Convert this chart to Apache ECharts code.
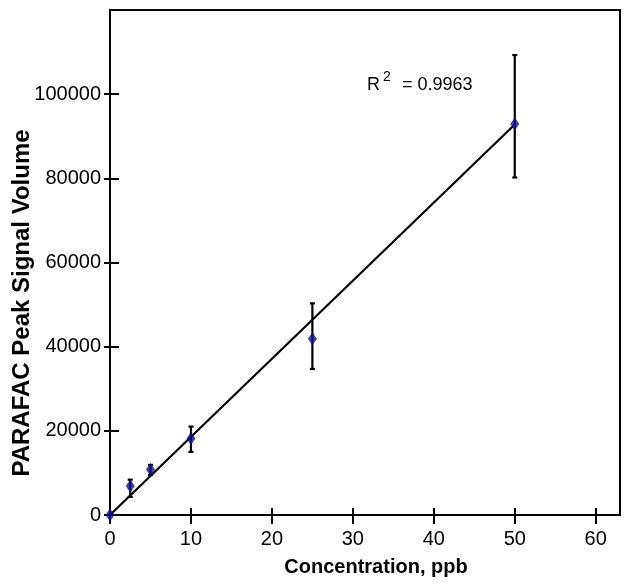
<!DOCTYPE html>
<html>
<head>
<meta charset="utf-8">
<script src="https://cdn.jsdelivr.net/npm/echarts@6/dist/echarts.min.js"></script>
<style>
  html, body { margin: 0; padding: 0; background: #fff; }
  #chart { width: 627px; height: 584px; }
</style>
</head>
<body>
<div id="chart"></div>
<script>
// concentration (ppb) and PARAFAC peak volumes
var conc = [0, 2.5, 5, 10, 25, 50];
var peakMean = [0, 6900, 10800, 18200, 41900, 92900];
var errLow = [0, 4300, 9500, 15000, 34700, 80200];
var errHigh = [0, 8400, 11900, 21000, 50300, 109300];
// least squares line drawn on the figure
var fitX = [0, 50];
var fitY = [0, 92800];
var xTicks = [0, 10, 20, 30, 40, 50, 60];
var yTicks = [0, 20000, 40000, 60000, 80000, 100000];
var r2Text = '0.9963';
var xTitle = 'Concentration, ppb';
var yTitle = 'PARAFAC Peak Signal Volume';

var font = 'Liberation Sans, Arial, sans-serif';
var chart = echarts.init(document.getElementById('chart'));

var axisBase = { type: 'value', splitLine: { show: false } };

chart.setOption({
  backgroundColor: '#fff',
  animation: false,
  grid: {
    left: 110, right: 7, top: 10, bottom: 69,
    outerBoundsMode: 'none',
    containLabel: false,
    show: true, borderColor: '#000', borderWidth: 2
  },
  xAxis: [
    Object.assign({}, axisBase, {
      min: 0, max: 63, position: 'bottom',
      axisLine: { show: true, onZero: false, lineStyle: { color: '#000', width: 2 } },
      axisTick: { show: true, inside: false, length: 9, lineStyle: { color: '#000', width: 2 }, customValues: xTicks },
      axisLabel: { show: true, customValues: xTicks, margin: 14, fontFamily: font, fontSize: 20, color: '#000' }
    }),
    Object.assign({}, axisBase, {
      min: 0, max: 63, position: 'bottom',
      axisLine: { show: false, onZero: false },
      axisTick: { show: true, inside: true, length: 7, lineStyle: { color: '#000', width: 2 }, customValues: xTicks },
      axisLabel: { show: false }
    })
  ],
  yAxis: [
    Object.assign({}, axisBase, {
      min: 0, max: 120000, position: 'left',
      axisLine: { show: true, onZero: false, lineStyle: { color: '#000', width: 2 } },
      axisTick: { show: true, inside: false, length: 6, lineStyle: { color: '#000', width: 2 }, customValues: yTicks },
      axisLabel: {
        show: true, customValues: yTicks, margin: 9, fontFamily: font, fontSize: 20, color: '#000',
        formatter: function (v) { return String(v); }
      }
    }),
    Object.assign({}, axisBase, {
      min: 0, max: 120000, position: 'left',
      axisLine: { show: false, onZero: false },
      axisTick: { show: true, inside: true, length: 9, lineStyle: { color: '#000', width: 2 }, customValues: yTicks },
      axisLabel: { show: false }
    })
  ],
  series: [
    {
      name: 'fit',
      type: 'line',
      data: fitX.map(function (x, i) { return [x, fitY[i]]; }),
      symbol: 'none',
      lineStyle: { color: '#000', width: 2.2 },
      z: 2
    },
    {
      name: 'error',
      type: 'custom',
      data: conc.map(function (c, i) { return [c, errLow[i], errHigh[i]]; }),
      renderItem: function (params, api) {
        var lo = api.coord([api.value(0), api.value(1)]);
        var hi = api.coord([api.value(0), api.value(2)]);
        if (Math.abs(lo[1] - hi[1]) < 1) return null;
        var cap = 2.5;
        var style = { stroke: '#000', lineWidth: 2.2 };
        return {
          type: 'group',
          children: [
            { type: 'line', shape: { x1: lo[0], y1: hi[1], x2: lo[0], y2: lo[1] }, style: style },
            { type: 'line', shape: { x1: lo[0] - cap, y1: hi[1], x2: lo[0] + cap, y2: hi[1] }, style: style },
            { type: 'line', shape: { x1: lo[0] - cap, y1: lo[1], x2: lo[0] + cap, y2: lo[1] }, style: style }
          ]
        };
      },
      z: 3
    },
    {
      name: 'mean',
      type: 'scatter',
      data: conc.map(function (c, i) { return [c, peakMean[i]]; }),
      symbol: 'diamond',
      symbolSize: [9, 13],
      itemStyle: { color: '#10108a' },
      z: 4
    }
  ],
  graphic: [
    {
      type: 'text', x: 376, y: 567,
      style: { text: xTitle, fontFamily: font, fontWeight: 'bold', fontSize: 20, fill: '#000', align: 'center', verticalAlign: 'middle' }
    },
    {
      type: 'text', x: 22, y: 303, rotation: Math.PI / 2,
      style: { text: yTitle, fontFamily: font, fontWeight: 'bold', fontSize: 24, fill: '#000', align: 'center', verticalAlign: 'middle' }
    },
    { type: 'text', left: 367, top: 76, style: { text: 'R', fontFamily: font, fontSize: 18, fill: '#000' } },
    { type: 'text', left: 383, top: 70, style: { text: '2', fontFamily: font, fontSize: 14, fill: '#000' } },
    { type: 'text', left: 402, top: 76, style: { text: '= ' + r2Text, fontFamily: font, fontSize: 18, fill: '#000' } }
  ]
});
</script>
</body>
</html>
